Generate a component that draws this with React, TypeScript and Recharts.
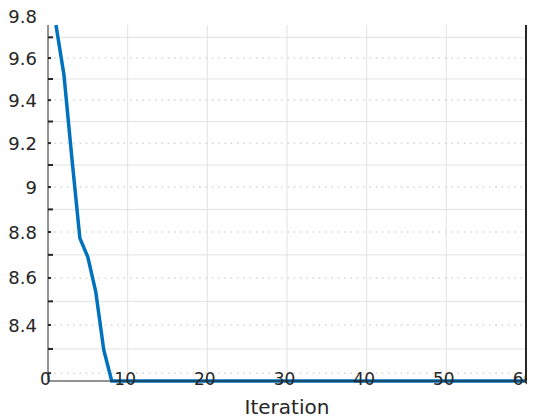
import React from 'react';
import { LineChart, Line, XAxis, YAxis, CartesianGrid } from 'recharts';

const iterations = [
  1, 2, 3, 4, 5, 6, 7, 8, 9, 10, 11, 12, 13, 14, 15, 16, 17, 18, 19, 20,
  21, 22, 23, 24, 25, 26, 27, 28, 29, 30, 31, 32, 33, 34, 35, 36, 37, 38, 39, 40,
  41, 42, 43, 44, 45, 46, 47, 48, 49, 50, 51, 52, 53, 54, 55, 56, 57, 58, 59, 60,
];
const objective = [
  9.76, 9.52, 9.13, 8.773, 8.69, 8.54, 8.296, 8.168, 8.168, 8.168,
  8.168, 8.168, 8.168, 8.168, 8.168, 8.168, 8.168, 8.168, 8.168, 8.168,
  8.168, 8.168, 8.168, 8.168, 8.168, 8.168, 8.168, 8.168, 8.168, 8.168,
  8.168, 8.168, 8.168, 8.168, 8.168, 8.168, 8.168, 8.168, 8.168, 8.168,
  8.168, 8.168, 8.168, 8.168, 8.168, 8.168, 8.168, 8.168, 8.168, 8.168,
  8.168, 8.168, 8.168, 8.168, 8.168, 8.168, 8.168, 8.168, 8.168, 8.168,
];

const xTicks = [0, 10, 20, 30, 40, 50, 60];
const xGrid = [10, 20, 30, 40, 50];
const yDomain = [8.168, 9.76];
const yLabelTicks = [8.4, 8.6, 8.8, 9, 9.2, 9.4, 9.6, 9.8];
const yMajorGrid = [8.3, 8.5, 8.7, 8.9, 9.1, 9.3, 9.5, 9.7];
const yMinorGrid = [8.2, 8.4, 8.6, 8.8, 9, 9.2, 9.4, 9.6];
const yAllTicks = [8.2, 8.3, 8.4, 8.5, 8.6, 8.7, 8.8, 8.9, 9, 9.1, 9.2, 9.3, 9.4, 9.5, 9.6, 9.7, 9.8];

const data = iterations.map((it, i) => ({ it, v: objective[i] }));

const FONT = 'DejaVu Sans';
const TXT = '#262626';

const LeftTick = (props: any) => {
  const { x, y, payload } = props;
  const v = payload.value;
  const isMajor = yMajorGrid.includes(v);
  const isMinor = yMinorGrid.includes(v);
  const len = isMajor ? 5 : 3;
  return (
    <g>
      {(isMajor || isMinor) && (
        <line x1={x} x2={x + len} y1={y} y2={y} stroke={TXT} strokeWidth={2} />
      )}
      {yLabelTicks.includes(v) && (
        <text x={x - 11} y={y} textAnchor="end" dominantBaseline="central" fontFamily={FONT} fontSize={18} fill={TXT}>
          {String(v)}
        </text>
      )}
    </g>
  );
};

const RightTick = (props: any) => {
  const { x, y, payload } = props;
  const v = payload.value;
  const isMajor = yMajorGrid.includes(v);
  const isMinor = yMinorGrid.includes(v);
  if (!isMajor && !isMinor) return <g />;
  const len = isMajor ? 6 : 4;
  return <line x1={x} x2={x - len} y1={y} y2={y} stroke={TXT} strokeWidth={2} />;
};

const TopTick = (props: any) => {
  const { x, y, payload } = props;
  if (!xGrid.includes(payload.value)) return <g />;
  return <line x1={x} x2={x} y1={y} y2={y + 5} stroke={TXT} strokeWidth={2} />;
};

const BottomTick = (props: any) => {
  const { x, y, payload } = props;
  return (
    <text x={x - 2.5} y={y - 2} textAnchor="middle" dominantBaseline="central" fontFamily={FONT} fontSize={17} fill={TXT}>
      {String(payload.value)}
    </text>
  );
};

export default function App() {
  return (
    <div style={{ width: 519, height: 412 }}>
      <style>{`html { overflow: hidden; } .recharts-wrapper, .recharts-surface { overflow: visible !important; }`}</style>
      <LineChart width={519} height={412} data={data} margin={{ top: 17, right: 0, bottom: 0, left: 0 }}>
        <CartesianGrid
          horizontalValues={yMajorGrid}
          verticalValues={xGrid}
          stroke="#e2e2e2"
          strokeWidth={1}
        />
        <CartesianGrid
          horizontalValues={yMinorGrid}
          vertical={false}
          stroke="#d4d4d4"
          strokeWidth={1.5}
          strokeDasharray="1.5 4.8"
        />
        <XAxis
          dataKey="it"
          type="number"
          domain={[0, 60]}
          ticks={xTicks}
          interval={0}
          height={39}
          tickSize={0}
          tickMargin={0}
          tickLine={false}
          axisLine={{ stroke: TXT, strokeWidth: 1 }}
          tick={<BottomTick />}
          label={{ value: 'Iteration', position: 'insideBottom', offset: 6, fontFamily: FONT, fontSize: 20, fill: TXT }}
        />
        <XAxis
          xAxisId="top"
          orientation="top"
          dataKey="it"
          type="number"
          domain={[0, 60]}
          ticks={xTicks}
          interval={0}
          height={0}
          tickSize={0}
          tickMargin={0}
          tickLine={false}
          axisLine={{ stroke: '#7f7f7f', strokeWidth: 2 }}
          tick={<TopTick />}
        />
        <YAxis
          type="number"
          scale="log"
          domain={yDomain}
          ticks={yAllTicks}
          interval={0}
          width={40}
          tickSize={0}
          tickMargin={0}
          tickLine={false}
          axisLine={{ stroke: TXT, strokeWidth: 1 }}
          tick={<LeftTick />}
        />
        <YAxis
          yAxisId="r"
          orientation="right"
          type="number"
          scale="log"
          domain={yDomain}
          ticks={yAllTicks}
          interval={0}
          width={1}
          tickSize={0}
          tickMargin={0}
          tickLine={false}
          axisLine={{ stroke: TXT, strokeWidth: 2 }}
          tick={<RightTick />}
        />
        <Line
          type="linear"
          dataKey="v"
          stroke="#0072BD"
          strokeWidth={3.5}
          dot={false}
          isAnimationActive={false}
        />
      </LineChart>
    </div>
  );
}
